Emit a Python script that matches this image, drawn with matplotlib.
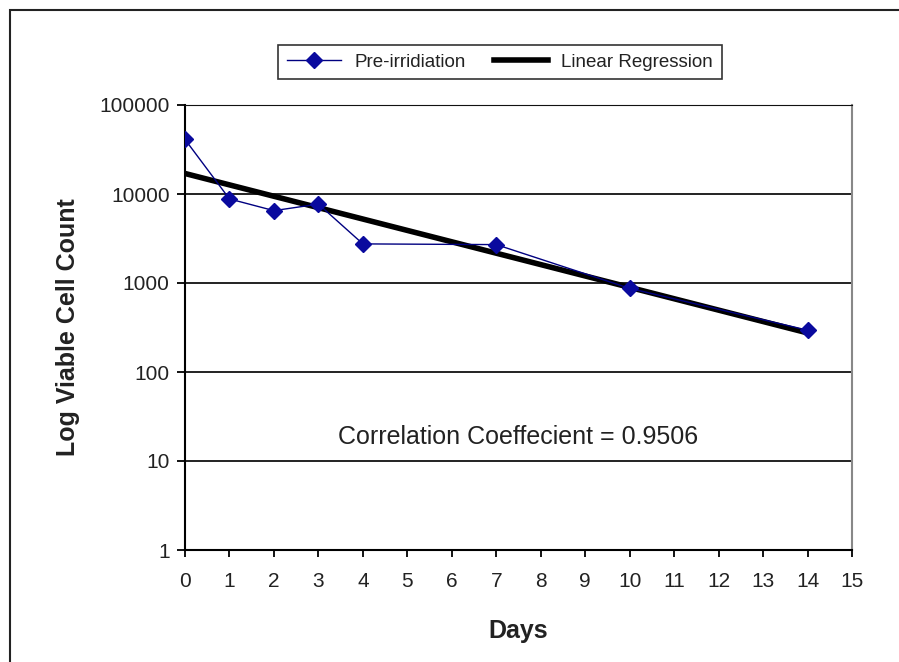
#!/usr/bin/env python3
"""Viable cell count vs days, log scale, with linear regression line."""
import matplotlib
matplotlib.use("Agg")
import matplotlib.pyplot as plt
from matplotlib.patches import Rectangle
from matplotlib.ticker import FixedLocator, FixedFormatter

# ---------------- data ----------------
days = [0, 1, 2, 3, 4, 7, 10, 14]
cell_counts = [41000, 8800, 6500, 7700, 2750, 2700, 870, 295]

reg_days = [0, 14]
reg_counts = [17000, 275]

x_ticks = list(range(0, 16))
y_ticks = [1, 10, 100, 1000, 10000, 100000]
y_tick_labels = ["1", "10", "100", "1000", "10000", "100000"]

plt.rcParams["font.family"] = ["Liberation Sans", "DejaVu Sans"]
text_col = "#222222"

fig = plt.figure(figsize=(8.99, 6.62), dpi=100)
fig.patch.set_facecolor("white")

# outer chart frame (runs off the right/bottom edge in the source)
fig.patches.append(Rectangle((10 / 899, -0.05), 1.0, 1 - 10 / 662 + 0.05,
                             transform=fig.transFigure, fill=False,
                             edgecolor="#222222", linewidth=1.5))

ax = fig.add_axes([185 / 899, 1 - 550 / 662, 667 / 899, 445 / 662])
ax.set_yscale("log")
ax.set_xlim(0, 15)
ax.set_ylim(1, 100000)

for y in y_ticks[1:]:
    ax.axhline(y, color="#111111", linewidth=1.3, zorder=1)

line_pre, = ax.plot(days, cell_counts, color="#000080", linewidth=1.0,
                    marker="D", markersize=8.5, markerfacecolor="#0a0a9e",
                    markeredgecolor="#0a0a9e", zorder=3, label="Pre-irridiation")
line_reg, = ax.plot(reg_days, reg_counts, color="black", linewidth=4,
                    zorder=2, label="Linear Regression")

ax.yaxis.set_major_locator(FixedLocator(y_ticks))
ax.yaxis.set_major_formatter(FixedFormatter(y_tick_labels))
ax.yaxis.set_minor_locator(FixedLocator([]))
ax.set_xticks(x_ticks)
ax.tick_params(axis="both", labelsize=15, colors="black", labelcolor=text_col, width=1.3)
ax.tick_params(axis="y", length=6, pad=5)
ax.tick_params(axis="x", length=5, pad=11)

ax.spines["left"].set_linewidth(1.5)
ax.spines["bottom"].set_linewidth(1.5)
ax.spines["top"].set_color("#111111")
ax.spines["right"].set_color("#888888")
ax.spines["right"].set_linewidth(1.5)

ax.set_xlabel("Days", fontsize=18, fontweight="bold", labelpad=20, color=text_col)
ax.set_ylabel("Log Viable Cell Count", fontsize=18, fontweight="bold", labelpad=14,
              color=text_col)

ax.text(0.5, 0.255, "Correlation Coeffecient = 0.9506", transform=ax.transAxes,
        ha="center", va="center", fontsize=18, color=text_col)

leg = fig.legend(handles=[line_pre, line_reg], loc="center",
                 bbox_to_anchor=(500 / 899, 1 - 62 / 662), ncol=2, fontsize=13.5,
                 frameon=True, fancybox=False, handlelength=2.9,
                 handletextpad=0.7, columnspacing=1.5, borderpad=0.45,
                 labelcolor=text_col)
leg.get_frame().set_edgecolor("black")
leg.get_frame().set_linewidth(1.2)

fig.savefig("out.png", dpi=100)
